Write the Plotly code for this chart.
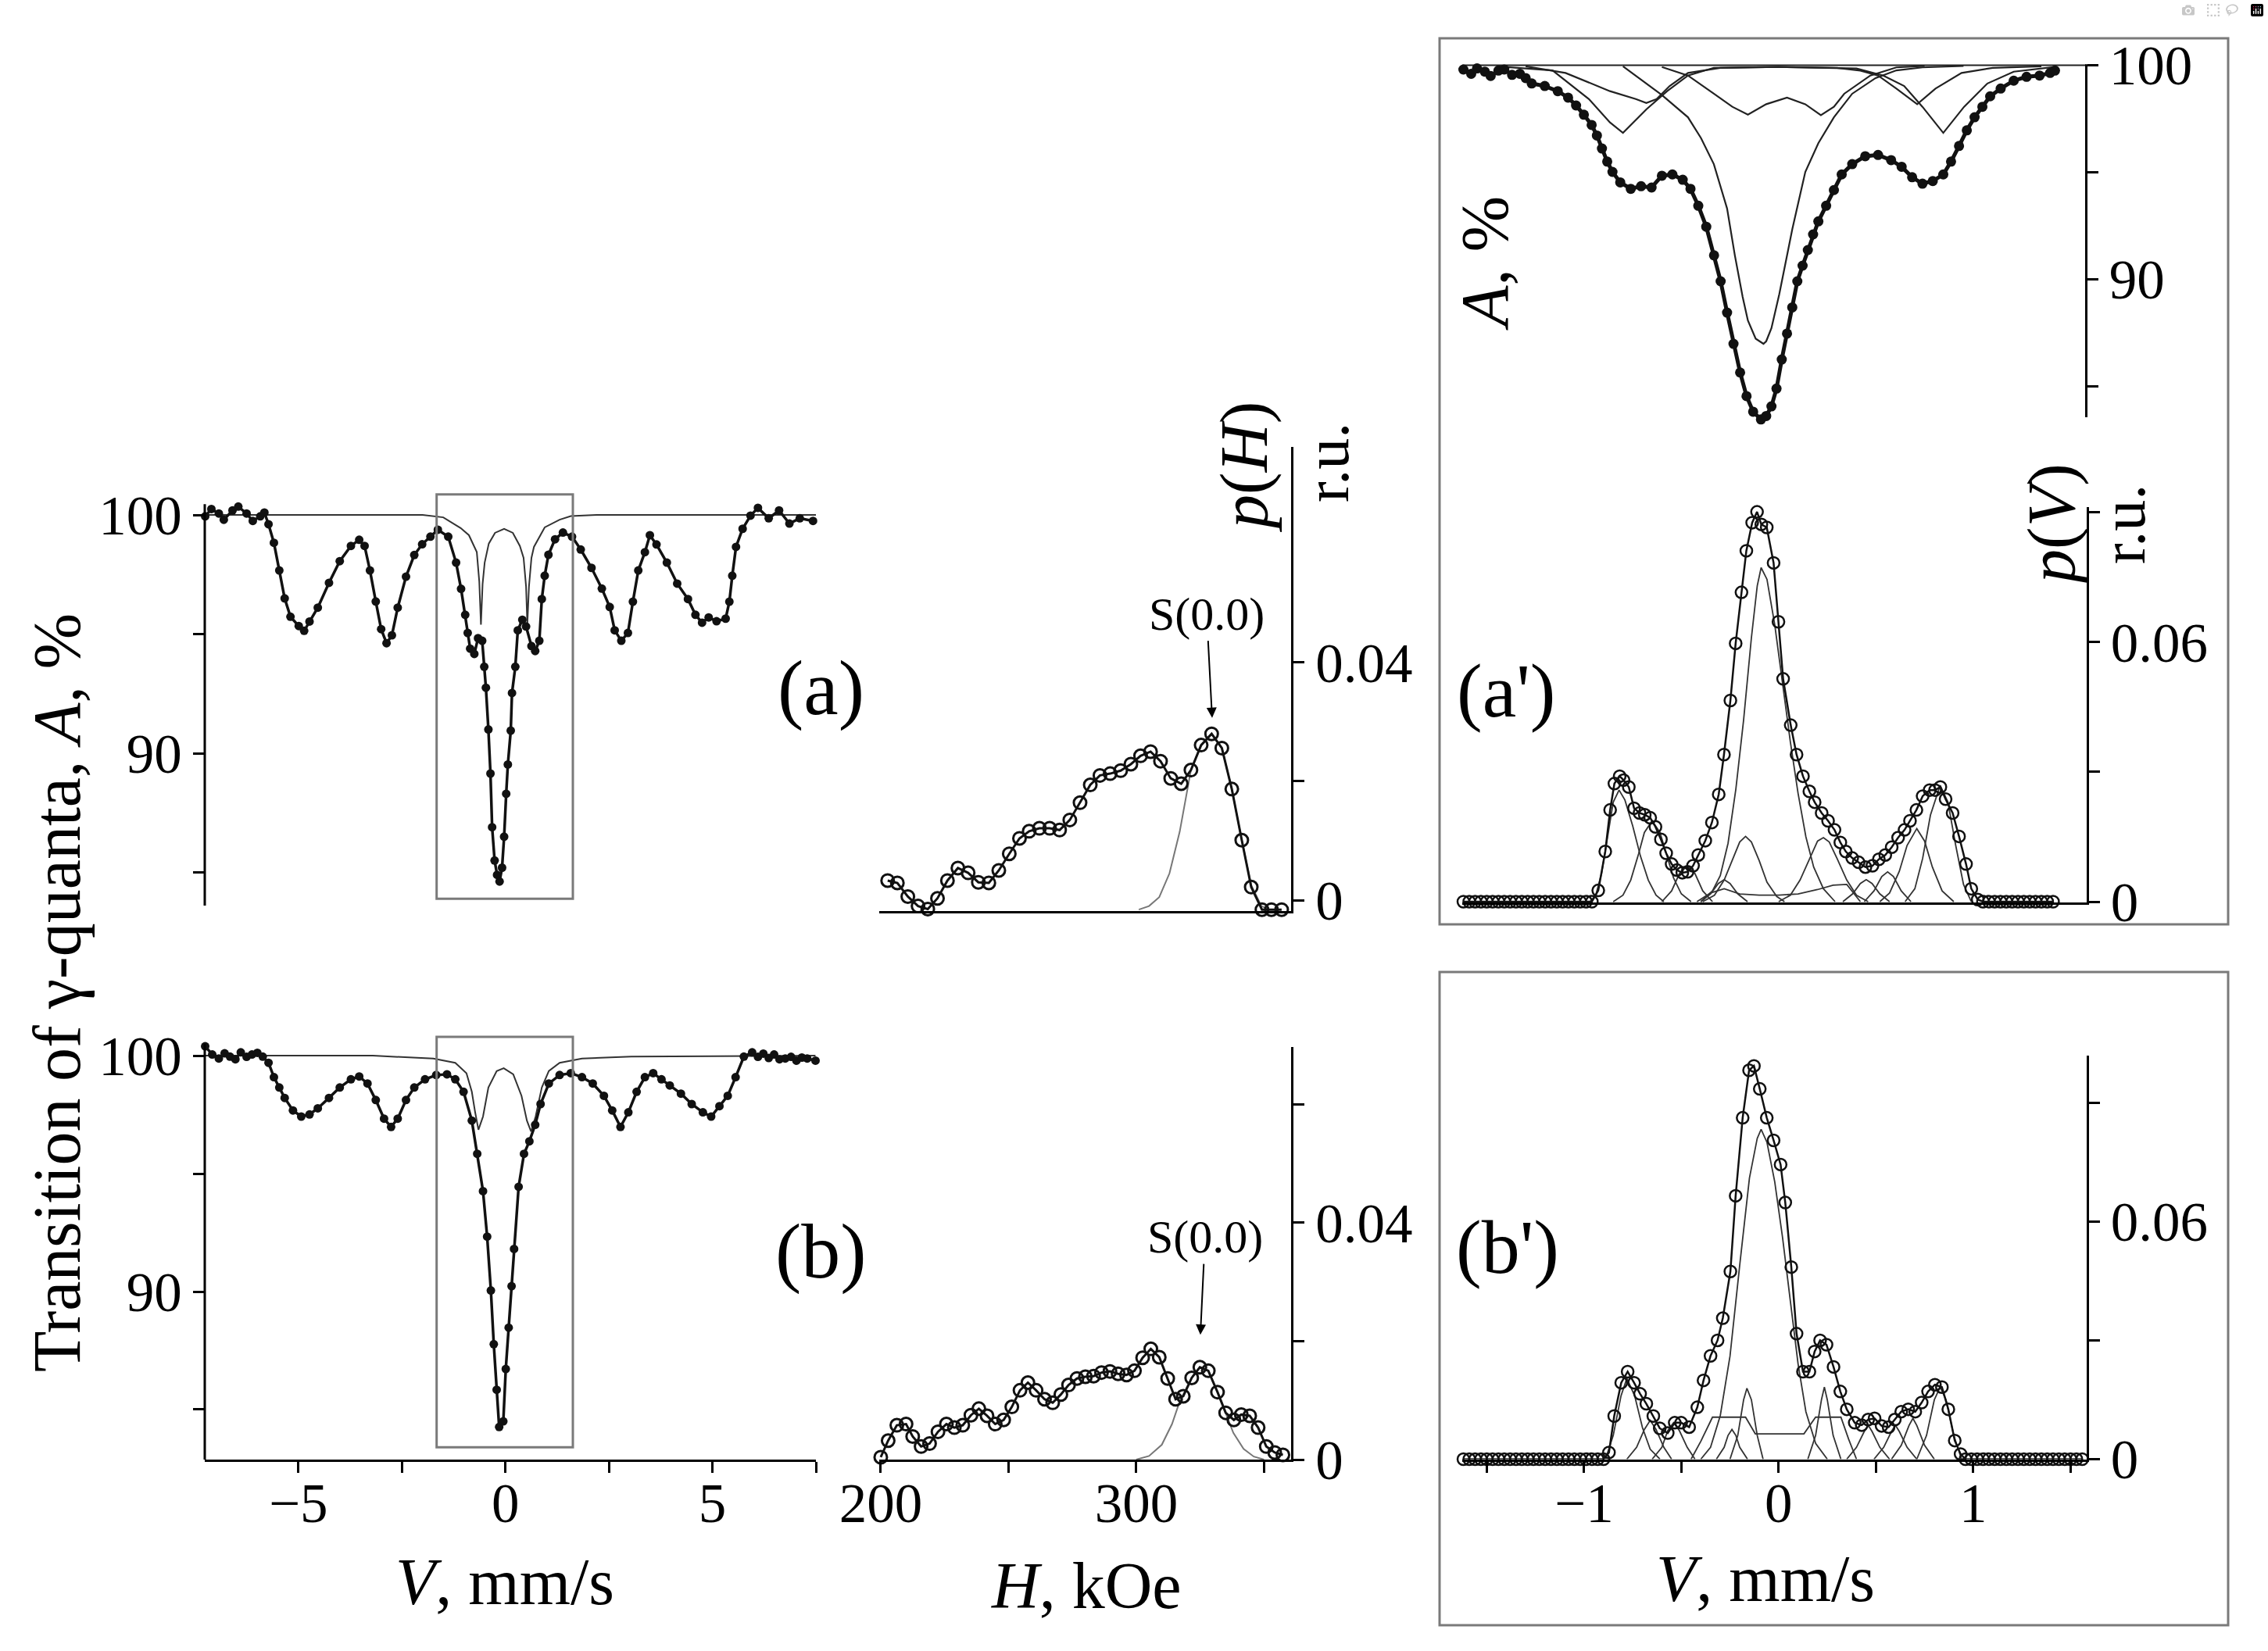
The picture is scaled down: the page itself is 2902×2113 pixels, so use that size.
import plotly.graph_objects as go

W, H = 2902, 2113
FONT = "Liberation Serif, Times New Roman, serif"


def px(x):
    return x / W


def py(y):
    return 1 - y / H


# ---------------- data: full-range spectrum (a) ----------------
V_a = [-7.25, -7.10, -6.92, -6.80, -6.59, -6.45, -6.25, -6.10, -5.92, -5.82,
       -5.72, -5.59, -5.46, -5.33, -5.19, -4.99, -4.86, -4.73, -4.53, -4.26,
       -4.00, -3.73, -3.53, -3.40, -3.27, -3.13, -3.00, -2.87, -2.74, -2.60,
       -2.40, -2.20, -2.01, -1.81, -1.63, -1.38, -1.19, -1.07, -0.97, -0.91,
       -0.85, -0.75, -0.66, -0.56, -0.51, -0.47, -0.41, -0.36, -0.32, -0.26,
       -0.20, -0.14, -0.08, -0.03, 0.02, 0.06, 0.13, 0.16, 0.24, 0.30,
       0.41, 0.50, 0.63, 0.72, 0.82, 0.88, 0.95, 1.04, 1.20, 1.39,
       1.61, 1.82, 2.08, 2.33, 2.52, 2.64, 2.80, 2.96, 3.08, 3.21,
       3.37, 3.49, 3.65, 3.90, 4.15, 4.41, 4.59, 4.75, 4.91, 5.10,
       5.32, 5.41, 5.48, 5.57, 5.73, 5.92, 6.10, 6.36, 6.61, 6.86, 7.11, 7.43]
A_a = [99.94, 100.25, 100.06, 99.80, 100.19, 100.35, 100.06, 99.75, 99.94, 100.10,
       99.61, 98.83, 97.67, 96.50, 95.73, 95.34, 95.14, 95.53, 96.11, 97.15,
       98.06, 98.70, 98.96, 98.70, 97.67, 96.37, 95.21, 94.62, 94.95, 96.11,
       97.41, 98.32, 98.77, 99.09, 99.38, 99.09, 98.00, 96.90, 95.81, 95.05,
       94.39, 94.17, 94.83, 94.72, 93.63, 92.75, 91.00, 89.15, 86.90, 85.50,
       84.90, 84.62, 85.20, 86.50, 88.30, 89.53, 90.95, 92.53, 93.63, 95.16,
       95.60, 95.32, 94.50, 94.29, 94.72, 96.47, 97.45, 98.33, 98.98, 99.26,
       99.09, 98.55, 97.78, 96.91, 96.14, 95.16, 94.72, 95.05, 96.36, 97.67,
       98.44, 99.15, 98.76, 98.00, 97.12, 96.47, 95.81, 95.48, 95.70, 95.54,
       95.65, 96.36, 97.45, 98.66, 99.42, 99.97, 100.30, 99.86, 100.19, 99.64, 99.86, 99.75]
V_a_dbl = [-7.26, -2.0, -1.5, -1.26, -1.08, -0.88, -0.69, -0.63, -0.59, -0.55,
           -0.50, -0.40, -0.25, -0.03, 0.18, 0.35, 0.44, 0.50, 0.53, 0.57,
           0.63, 0.69, 0.95, 1.31, 1.58, 2.2, 7.5]
A_a_dbl = [100, 100, 99.9, 99.64, 99.45, 99.15, 98.44, 97.2, 95.4, 97.1,
           98.0, 98.8, 99.25, 99.42, 99.25, 98.7, 98.2, 97.0, 95.4, 97.0,
           98.2, 98.66, 99.48, 99.8, 99.95, 100, 100]

# ---------------- data: full-range spectrum (b) ----------------
V_b = [-7.25, -7.08, -6.92, -6.78, -6.65, -6.52, -6.39, -6.25, -6.12, -5.99,
       -5.86, -5.72, -5.59, -5.46, -5.33,
       -5.13, -4.93, -4.73, -4.53, -4.26, -4.00, -3.73, -3.53, -3.33, -3.13,
       -2.93, -2.76, -2.60, -2.40, -2.20, -1.94, -1.67, -1.41, -1.21, -1.01,
       -0.81, -0.68, -0.54, -0.44, -0.35, -0.28, -0.21, -0.15, -0.05, 0.01,
       0.08, 0.15, 0.21, 0.32, 0.45, 0.58, 0.72, 0.85, 1.05, 1.31,
       1.58, 1.85, 2.11, 2.38, 2.58, 2.78, 2.97, 3.17, 3.37, 3.57,
       3.77, 3.97, 4.24, 4.50, 4.77, 4.97, 5.17, 5.37, 5.56, 5.76,
       5.96, 6.10, 6.23, 6.36, 6.49, 6.62, 6.76, 6.90, 7.03, 7.16, 7.29, 7.49]
A_b = [100.4, 100.05, 99.88, 100.10, 99.96, 99.85, 100.14, 99.95, 100.05, 100.12,
       99.96, 99.70, 99.09, 98.65, 98.21,
       97.68, 97.42, 97.51, 97.77, 98.21, 98.65, 99.00, 99.12, 98.82, 98.12,
       97.33, 96.98, 97.33, 98.12, 98.65, 99.00, 99.18, 99.21, 99.00, 98.47,
       97.25, 95.84, 94.26, 92.33, 90.05, 87.77, 85.84, 84.26, 84.50, 86.72,
       88.47, 90.23, 91.81, 94.44, 95.84, 96.37, 97.07, 97.95, 98.82, 99.18,
       99.26, 99.09, 98.82, 98.30, 97.68, 96.98, 97.60, 98.47, 99.09, 99.26,
       99.00, 98.74, 98.39, 97.95, 97.60, 97.42, 97.86, 98.30, 99.09, 99.96,
       100.14, 99.95, 100.09, 99.90, 100.05, 99.85, 99.88, 99.95, 99.79, 99.92, 99.88, 99.79]
V_b_dbl = [-7.25, -3.2, -1.74, -1.21, -0.94, -0.81, -0.73, -0.65, -0.54, -0.41,
           -0.21, -0.04, 0.19, 0.39, 0.52, 0.62, 0.73, 0.88, 1.05, 1.31,
           1.85, 3.04, 7.49]
A_b_dbl = [100, 100, 99.88, 99.70, 99.26, 98.47, 97.6, 96.86, 97.42, 98.65,
           99.35, 99.47, 99.21, 98.3, 97.25, 96.79, 97.42, 98.65, 99.35, 99.7,
           99.88, 99.96, 100]

# ---------------- data: hyperfine field distributions p(H) ----------------
H_pa = [202.7, 206.5, 210.6, 214.6, 218.4, 222.2, 226.1, 230.2, 234.2, 238.2,
        242.3, 246.2, 250.3, 254.3, 258.1, 262.1, 266.1, 270.0, 274.0, 278.0,
        282.0, 285.8, 289.8, 293.9, 297.9, 301.7, 305.6, 309.5, 313.5, 317.6,
        321.4, 325.4, 329.5, 333.5, 337.4, 341.3, 345.0, 349.2, 352.9, 356.9]
p_Ha = [0.0033, 0.0029, 0.0006, -0.0010, -0.0015, 0.0003, 0.0033, 0.0054, 0.0046, 0.0030,
        0.0029, 0.0050, 0.0078, 0.0104, 0.0116, 0.0121, 0.0121, 0.0118, 0.0135, 0.0164,
        0.0194, 0.0210, 0.0213, 0.0218, 0.0229, 0.0243, 0.0250, 0.0234, 0.0205, 0.0196,
        0.0219, 0.0261, 0.0280, 0.0256, 0.0187, 0.0101, 0.0022, -0.0016, -0.0016, -0.0016]
H_Sa = [301.0, 305.0, 309.0, 313.0, 317.0, 321.4, 325.4, 329.5, 333.5, 337.4, 341.3, 345.0, 349.0, 352.0]
p_Sa = [-0.0016, -0.0010, 0.0005, 0.0045, 0.0115, 0.0219, 0.0261, 0.0280, 0.0256, 0.0187, 0.0101, 0.0025, -0.0010, -0.0016]

H_pb = [200.0, 202.9, 206.3, 209.9, 212.5, 215.8, 219.1, 222.4, 225.7, 228.8, 232.1,
        235.3, 238.4, 241.6, 244.8, 248.1, 251.3, 254.5, 257.6, 260.8, 264.1,
        267.3, 270.5, 273.5, 276.8, 280.1, 283.3, 286.4, 289.7, 292.9, 296.2,
        299.3, 302.5, 305.7, 309.0, 312.3, 315.4, 318.4, 321.7, 324.9, 328.2,
        331.8, 335.0, 338.2, 341.1, 344.4, 347.7, 350.9, 354.2, 357.4]
p_Hb = [0.0004, 0.0032, 0.0058, 0.0060, 0.0039, 0.0022, 0.0027, 0.0047, 0.0060, 0.0054, 0.0058,
        0.0075, 0.0086, 0.0074, 0.0060, 0.0067, 0.0089, 0.0117, 0.0130, 0.0117, 0.0102,
        0.0096, 0.0110, 0.0126, 0.0137, 0.0140, 0.0141, 0.0147, 0.0149, 0.0145, 0.0143,
        0.0150, 0.0172, 0.0187, 0.0173, 0.0137, 0.0102, 0.0107, 0.0138, 0.0156, 0.0150,
        0.0114, 0.0079, 0.0067, 0.0076, 0.0074, 0.0054, 0.0022, 0.0012, 0.0008]
H_Sb = [300.0, 305.0, 310.0, 314.0, 317.0, 321.7, 324.9, 328.2, 331.8, 335.0, 338.0, 342.0, 346.0, 350.0]
p_Sb = [0.0, 0.0006, 0.0025, 0.0060, 0.0098, 0.0138, 0.0156, 0.0150, 0.0114, 0.0079, 0.0045, 0.0018, 0.0005, 0.0]

# ---------------- data: small-velocity spectrum (a') ----------------
V_ap = [-1.62, -1.58, -1.55, -1.51, -1.48, -1.44, -1.41, -1.37, -1.33, -1.30,
        -1.269, -1.202, -1.135, -1.082, -1.041, -1.001, -0.961, -0.934, -0.908, -0.881,
        -0.854, -0.814, -0.760, -0.707, -0.653, -0.600, -0.546, -0.493, -0.453, -0.413,
        -0.372, -0.332, -0.298, -0.265, -0.232, -0.198, -0.165, -0.131, -0.091, -0.064,
        -0.037, -0.011, 0.016, 0.043, 0.070, 0.096, 0.123, 0.150, 0.177, 0.204,
        0.244, 0.284, 0.324, 0.378, 0.445, 0.511, 0.578, 0.632, 0.686, 0.739,
        0.792, 0.846, 0.886, 0.927, 0.967, 1.007, 1.047, 1.087, 1.141, 1.208,
        1.274, 1.341, 1.395, 1.42]
A_ap = [99.8, 99.6, 99.85, 99.7, 99.5, 99.75, 99.8, 99.55, 99.6, 99.4,
        99.15, 99.03, 98.79, 98.49, 98.12, 97.69, 97.21, 96.72, 96.11, 95.50,
        95.02, 94.53, 94.23, 94.35, 94.29, 94.84, 94.90, 94.65, 94.23, 93.44,
        92.46, 91.12, 89.91, 88.45, 86.99, 85.65, 84.55, 83.82, 83.46, 83.62,
        84.07, 84.90, 86.26, 87.47, 88.69, 89.91, 90.64, 91.37, 92.10, 92.71,
        93.44, 94.17, 94.90, 95.38, 95.75, 95.81, 95.57, 95.26, 94.77, 94.47,
        94.59, 94.90, 95.50, 96.23, 96.96, 97.57, 98.06, 98.55, 98.91, 99.28,
        99.46, 99.52, 99.64, 99.75]
V_ap_base = [-1.626, 1.581]
A_ap_base = [100.0, 100.0]
V_ap_c1 = [-0.80, -0.600, -0.466, -0.399, -0.333, -0.265, -0.225, -0.185, -0.158, -0.118,
           -0.078, -0.064, -0.037, 0.003, 0.070, 0.137, 0.204, 0.284, 0.378, 0.498,
           0.605, 0.739, 0.95]
A_ap_c1 = [99.95, 98.61, 97.57, 96.60, 95.38, 93.31, 91.12, 89.18, 88.08, 87.23,
           86.99, 87.11, 87.72, 89.30, 92.34, 95.02, 96.36, 97.57, 98.67, 99.40,
           99.76, 99.90, 99.97]
V_ap_c2 = [-0.60, -0.466, -0.333, -0.238, -0.158, -0.064, 0.043, 0.137, 0.217, 0.284,
           0.337, 0.471, 0.605, 0.75]
A_ap_c2 = [99.92, 99.52, 98.67, 98.06, 97.69, 98.18, 98.49, 98.18, 97.67, 98.06,
           98.67, 99.52, 99.90, 99.97]
V_ap_c3 = [-1.45, -1.162, -0.975, -0.867, -0.800, -0.734, -0.680, -0.573, -0.466, -0.333,
           0.0, 0.400, 0.538, 0.645, 0.739, 0.846, 0.953, 1.073, 1.208, 1.42]
A_ap_c3 = [99.95, 99.76, 98.42, 97.33, 96.84, 97.45, 97.94, 98.79, 99.52, 99.88,
           99.92, 99.85, 99.52, 99.03, 98.06, 96.84, 98.06, 99.15, 99.70, 99.92]
V_ap_c4 = [-1.30, -1.095, -0.867, -0.734, -0.680, -0.627, -0.560, -0.466, -0.30, 0.0,
           0.30, 0.420, 0.511, 0.605, 0.712, 0.806, 0.940, 1.10, 1.35]
A_ap_c4 = [99.95, 99.64, 98.79, 98.42, 98.24, 98.42, 99.03, 99.64, 99.88, 99.92,
           99.88, 99.75, 99.52, 98.91, 98.18, 98.91, 99.64, 99.88, 99.95]

# ---------------- data: p(V) distributions ----------------
V_pa = [-1.62, -1.59, -1.56, -1.53, -1.50, -1.47, -1.44, -1.41, -1.38, -1.35,
        -1.32, -1.29, -1.26, -1.23, -1.20, -1.17, -1.14, -1.11, -1.08, -1.05,
        -1.02, -0.99, -0.96,
        -0.927, -0.891, -0.866, -0.844, -0.817, -0.797, -0.770, -0.743, -0.715, -0.688,
        -0.660, -0.633, -0.605, -0.578, -0.550, -0.523, -0.495, -0.468, -0.440, -0.413,
        -0.377, -0.343, -0.308, -0.281, -0.248, -0.221, -0.191, -0.166, -0.136, -0.111,
        -0.089, -0.061, -0.026, -0.001, 0.023, 0.062, 0.092, 0.125, 0.158, 0.185,
        0.221, 0.254, 0.287, 0.317, 0.345, 0.378, 0.411, 0.446, 0.482, 0.515,
        0.548, 0.581, 0.614, 0.647, 0.675, 0.708, 0.740, 0.776, 0.804, 0.831,
        0.858, 0.894, 0.927, 0.963, 0.990, 1.023,
        1.05, 1.08, 1.11, 1.14, 1.17, 1.20, 1.23, 1.26, 1.29, 1.32, 1.35, 1.38, 1.41]
p_Va = [0.0, 0.0, 0.0, 0.0, 0.0, 0.0, 0.0, 0.0, 0.0, 0.0,
        0.0, 0.0, 0.0, 0.0, 0.0, 0.0, 0.0, 0.0, 0.0, 0.0,
        0.0, 0.0, 0.0,
        0.0026, 0.0116, 0.0212, 0.0273, 0.0290, 0.0281, 0.0265, 0.0216, 0.0205, 0.0201,
        0.0194, 0.0173, 0.0144, 0.0112, 0.0087, 0.0073, 0.0067, 0.0069, 0.0083, 0.0108,
        0.0141, 0.0183, 0.0248, 0.0340, 0.0465, 0.0597, 0.0715, 0.0811, 0.0876, 0.0901,
        0.0872, 0.0865, 0.0783, 0.0647, 0.0515, 0.0408, 0.0340, 0.0290, 0.0255, 0.0230,
        0.0205, 0.0187, 0.0166, 0.0137, 0.0116, 0.0101, 0.0091, 0.0080, 0.0083, 0.0098,
        0.0108, 0.0126, 0.0148, 0.0166, 0.0187, 0.0212, 0.0244, 0.0258, 0.0258, 0.0265,
        0.0237, 0.0205, 0.0151, 0.0087, 0.0030, 0.0005,
        0.0, 0.0, 0.0, 0.0, 0.0, 0.0, 0.0, 0.0, 0.0, 0.0, 0.0, 0.0, 0.0]

comp_a_V = [
    [-0.97, -0.94, -0.91, -0.88, -0.85, -0.82, -0.79, -0.75, -0.71, -0.67, -0.63, -0.59],
    [-0.85, -0.80, -0.76, -0.72, -0.69, -0.65, -0.61, -0.58, -0.54, -0.50, -0.45],
    [-0.60, -0.55, -0.51, -0.47, -0.43, -0.39, -0.34],
    [-0.40, -0.35, -0.31, -0.28, -0.25, -0.21, -0.16],
    [-0.39, -0.33, -0.28, -0.24, -0.20, -0.17, -0.14, -0.10, -0.06, -0.01, 0.03],
    [-0.40, -0.34, -0.30, -0.26, -0.22, -0.18, -0.14, -0.11, -0.09, -0.06, -0.02, 0.02,
     0.06, 0.10, 0.14, 0.18, 0.23, 0.29],
    [0.0, 0.06, 0.11, 0.16, 0.20, 0.23, 0.26, 0.30, 0.35, 0.40, 0.46],
    [-0.42, -0.35, -0.28, -0.20, -0.10, 0.0, 0.10, 0.20, 0.28, 0.35, 0.42],
    [0.33, 0.38, 0.42, 0.45, 0.48, 0.52, 0.57],
    [0.44, 0.49, 0.53, 0.56, 0.59, 0.63, 0.68],
    [0.52, 0.57, 0.62, 0.66, 0.71, 0.75, 0.79, 0.84, 0.90],
    [0.65, 0.70, 0.74, 0.78, 0.83, 0.87, 0.91, 0.95, 0.99],
]
comp_a_p = [
    [0.0, 0.0015, 0.0065, 0.0150, 0.0230, 0.0258, 0.0235, 0.0175, 0.0105, 0.0050, 0.0015, 0.0],
    [0.0, 0.0015, 0.0050, 0.0110, 0.0160, 0.0187, 0.0160, 0.0115, 0.0055, 0.0018, 0.0],
    [0.0, 0.0025, 0.0065, 0.0083, 0.0065, 0.0025, 0.0],
    [0.0, 0.0018, 0.0042, 0.0051, 0.0042, 0.0018, 0.0],
    [0.0, 0.0015, 0.0050, 0.0095, 0.0138, 0.0151, 0.0138, 0.0095, 0.0045, 0.0012, 0.0],
    [0.0, 0.0025, 0.0060, 0.0135, 0.0260, 0.0420, 0.0610, 0.0730, 0.0772, 0.0745, 0.0640, 0.0500,
     0.0370, 0.0250, 0.0150, 0.0080, 0.0030, 0.0],
    [0.0, 0.0015, 0.0050, 0.0100, 0.0140, 0.0148, 0.0138, 0.0100, 0.0050, 0.0015, 0.0],
    [0.0, 0.0020, 0.0030, 0.0018, 0.0015, 0.0015, 0.0018, 0.0028, 0.0038, 0.0040, 0.0],
    [0.0, 0.0018, 0.0042, 0.0051, 0.0042, 0.0018, 0.0],
    [0.0, 0.0025, 0.0058, 0.0069, 0.0058, 0.0025, 0.0],
    [0.0, 0.0020, 0.0070, 0.0130, 0.0169, 0.0140, 0.0080, 0.0025, 0.0],
    [0.0, 0.0030, 0.0100, 0.0200, 0.0269, 0.0230, 0.0130, 0.0040, 0.0],
]

V_pb = [-1.62, -1.59, -1.56, -1.53, -1.50, -1.47, -1.44, -1.41, -1.38, -1.35,
        -1.32, -1.29, -1.26, -1.23, -1.20, -1.17, -1.14, -1.11, -1.08, -1.05,
        -1.02, -0.99, -0.96, -0.93, -0.90,
        -0.872, -0.845, -0.809, -0.776, -0.743, -0.712, -0.680, -0.644, -0.611, -0.570,
        -0.534, -0.501, -0.460, -0.418, -0.386, -0.350, -0.314, -0.287, -0.248, -0.221,
        -0.185, -0.152, -0.127, -0.097, -0.061, -0.026, 0.010, 0.034, 0.065, 0.092,
        0.125, 0.158, 0.185, 0.213, 0.246, 0.282, 0.317, 0.350, 0.391, 0.427,
        0.460, 0.493, 0.529, 0.565, 0.597, 0.630, 0.666, 0.702, 0.735, 0.768,
        0.803, 0.839, 0.872, 0.905, 0.935,
        0.96, 0.99, 1.02, 1.05, 1.08, 1.11, 1.14, 1.17, 1.20, 1.23, 1.26, 1.29,
        1.32, 1.35, 1.38, 1.41, 1.44, 1.47, 1.50, 1.53, 1.56]
p_Vb = [0.0, 0.0, 0.0, 0.0, 0.0, 0.0, 0.0, 0.0, 0.0, 0.0,
        0.0, 0.0, 0.0, 0.0, 0.0, 0.0, 0.0, 0.0, 0.0, 0.0,
        0.0, 0.0, 0.0, 0.0, 0.0,
        0.0017, 0.0109, 0.0193, 0.0221, 0.0193, 0.0165, 0.0140, 0.0109, 0.0078, 0.0066,
        0.0092, 0.0092, 0.0081, 0.0131, 0.0199, 0.0261, 0.0300, 0.0356, 0.0474, 0.0665,
        0.0862, 0.0982, 0.0993, 0.0935, 0.0862, 0.0805, 0.0744, 0.0648, 0.0485, 0.0317,
        0.0221, 0.0221, 0.0272, 0.0300, 0.0289, 0.0233, 0.0171, 0.0126, 0.0092, 0.0086,
        0.0100, 0.0103, 0.0084, 0.0081, 0.0100, 0.0120, 0.0126, 0.0120, 0.0143, 0.0171,
        0.0188, 0.0182, 0.0126, 0.0047, 0.0013,
        0.0, 0.0, 0.0, 0.0, 0.0, 0.0, 0.0, 0.0, 0.0, 0.0, 0.0, 0.0,
        0.0, 0.0, 0.0, 0.0, 0.0, 0.0, 0.0, 0.0, 0.0]

comp_b_V = [
    [-0.89, -0.85, -0.81, -0.78, -0.74, -0.70, -0.66, -0.61],
    [-0.78, -0.73, -0.69, -0.66, -0.63, -0.59, -0.55],
    [-0.65, -0.60, -0.57, -0.54, -0.51, -0.47, -0.43],
    [-0.45, -0.40, -0.34, -0.25, -0.17, -0.12, 0.0, 0.13, 0.19, 0.26, 0.32, 0.36, 0.40],
    [-0.32, -0.28, -0.26, -0.24, -0.22, -0.20, -0.16],
    [-0.25, -0.21, -0.18, -0.163, -0.14, -0.11, -0.08],
    [-0.40, -0.35, -0.30, -0.25, -0.20, -0.15, -0.11, -0.09, -0.06, -0.02, 0.02, 0.06,
     0.10, 0.14, 0.19, 0.25],
    [0.15, 0.19, 0.22, 0.235, 0.25, 0.28, 0.32],
    [0.35, 0.40, 0.44, 0.46, 0.48, 0.52, 0.57],
    [0.49, 0.54, 0.58, 0.60, 0.62, 0.66, 0.71],
    [0.58, 0.63, 0.67, 0.69, 0.71, 0.75, 0.80],
    [0.71, 0.76, 0.80, 0.83, 0.86, 0.90, 0.94],
]
comp_b_p = [
    [0.0, 0.0060, 0.0160, 0.0204, 0.0160, 0.0080, 0.0025, 0.0],
    [0.0, 0.0030, 0.0075, 0.0098, 0.0075, 0.0030, 0.0],
    [0.0, 0.0030, 0.0072, 0.0092, 0.0072, 0.0030, 0.0],
    [0.0, 0.0045, 0.0106, 0.0106, 0.0106, 0.0064, 0.0064, 0.0064, 0.0106, 0.0106, 0.0106, 0.0050, 0.0],
    [0.0, 0.0030, 0.0060, 0.0075, 0.0060, 0.0030, 0.0],
    [0.0, 0.0060, 0.0150, 0.0179, 0.0150, 0.0060, 0.0],
    [0.0, 0.0030, 0.0110, 0.0260, 0.0490, 0.0710, 0.0810, 0.0833, 0.0800, 0.0700, 0.0560, 0.0400,
     0.0240, 0.0120, 0.0040, 0.0],
    [0.0, 0.0060, 0.0150, 0.0182, 0.0150, 0.0060, 0.0],
    [0.0, 0.0030, 0.0070, 0.0086, 0.0070, 0.0030, 0.0],
    [0.0, 0.0030, 0.0070, 0.0086, 0.0070, 0.0030, 0.0],
    [0.0, 0.0035, 0.0085, 0.0103, 0.0085, 0.0035, 0.0],
    [0.0, 0.0060, 0.0150, 0.0182, 0.0150, 0.0060, 0.0],
]

# tick labels
spec_y_ticks = [85, 90, 95, 100]
spec_y_text = ["", "90", "", "100"]
spec_x_ticks = [-5, -2.5, 0, 2.5, 5, 7.5]
spec_x_text = ["\u22125", "", "0", "", "5", ""]
pH_x_ticks = [200, 250, 300, 350]
pH_x_text = ["200", "", "300", ""]
pV_x_ticks = [-1.5, -1, -0.5, 0, 0.5, 1, 1.5]
pV_x_text = ["", "\u22121", "", "0", "", "1", ""]
pV_y_ticks = [0, 0.03, 0.06, 0.09]
pV_y_text = ["0", "", "0.06", ""]

# ---------------- figure ----------------
fig = go.Figure()
BLACK = "#111111"
THIN = "#333333"


def line_tr(x, y, ax, color=THIN, width=2):
    fig.add_trace(go.Scatter(x=x, y=y, mode="lines", xaxis="x" + ax, yaxis="y" + ax,
                             line=dict(color=color, width=width), hoverinfo="skip",
                             cliponaxis=False))


def dots_tr(x, y, ax, size=11, width=3.5):
    fig.add_trace(go.Scatter(x=x, y=y, mode="lines+markers", xaxis="x" + ax, yaxis="y" + ax,
                             line=dict(color=BLACK, width=width),
                             marker=dict(color=BLACK, size=size, symbol="circle"),
                             cliponaxis=False))


def circ_tr(x, y, ax, size=15, lw=2.5, width=2.5):
    fig.add_trace(go.Scatter(x=x, y=y, mode="lines+markers", xaxis="x" + ax, yaxis="y" + ax,
                             line=dict(color=BLACK, width=width),
                             marker=dict(color=BLACK, size=size, symbol="circle-open",
                                         line=dict(width=lw, color=BLACK)),
                             cliponaxis=False))


# (a)
line_tr(V_a_dbl, A_a_dbl, "", width=2)
dots_tr(V_a, A_a, "")
# (b)
line_tr(V_b_dbl, A_b_dbl, "2", width=2)
dots_tr(V_b, A_b, "2")
# p(H) a
line_tr(H_Sa, p_Sa, "3", color="#777777", width=2)
circ_tr(H_pa, p_Ha, "3", size=16, lw=3, width=3)
# p(H) b
line_tr(H_Sb, p_Sb, "4", color="#777777", width=2)
circ_tr(H_pb, p_Hb, "4", size=16, lw=3, width=3)
# (a') spectrum
for xx, yy in [(V_ap_base, A_ap_base), (V_ap_c1, A_ap_c1), (V_ap_c2, A_ap_c2),
               (V_ap_c3, A_ap_c3), (V_ap_c4, A_ap_c4)]:
    line_tr(xx, yy, "5", width=2.2, color="#222222")
dots_tr(V_ap, A_ap, "5", size=13, width=5)
# (a') p(V)
for xx, yy in zip(comp_a_V, comp_a_p):
    line_tr(xx, yy, "6", width=1.8)
circ_tr(V_pa, p_Va, "6")
# (b') p(V)
for xx, yy in zip(comp_b_V, comp_b_p):
    line_tr(xx, yy, "7", width=1.8)
circ_tr(V_pb, p_Vb, "7")

tickfont = dict(family=FONT, size=71, color="black")
base_ax = dict(showgrid=False, zeroline=False, tickfont=tickfont, ticks="outside",
               ticklen=14, tickwidth=3, tickcolor="black", linecolor="black", linewidth=3,
               fixedrange=True, automargin=False)

SPX = [px(262), px(1044)]
PHX = [px(1125), px(1652)]
PVX = [px(1871), px(2669.5)]
XLAB_SHIFT = -22

layout = dict(
    width=W, height=H, margin=dict(l=0, r=0, t=0, b=0, pad=0, autoexpand=False),
    paper_bgcolor="white", plot_bgcolor="rgba(0,0,0,0)", showlegend=False,
    font=dict(family=FONT, color="black"),
    xaxis=dict(base_ax, domain=SPX, range=[-7.26, 7.5], anchor="y", showline=False,
               showticklabels=False, ticks=""),
    yaxis=dict(base_ax, domain=[py(1159), py(620)], range=[83.61, 101.28], anchor="x",
               showline=False, tickvals=spec_y_ticks, ticktext=spec_y_text),
    xaxis2=dict(base_ax, domain=SPX, range=[-7.26, 7.5], anchor="y2", showline=True,
                tickvals=spec_x_ticks, ticktext=spec_x_text, ticklabelstandoff=XLAB_SHIFT),
    yaxis2=dict(base_ax, domain=[py(1868), py(1320)], range=[82.88, 101.03], anchor="x2",
                showline=False, tickvals=spec_y_ticks, ticktext=spec_y_text),
    xaxis3=dict(base_ax, domain=PHX, range=[199.4, 360.6], anchor="y3", showline=True,
                showticklabels=False, ticks=""),
    yaxis3=dict(base_ax, domain=[py(1166), py(572)], range=[-0.00184, 0.0763], anchor="x3",
                side="right", showline=True, tickvals=[0, 0.02, 0.04], ticktext=["0", "", "0.04"]),
    xaxis4=dict(base_ax, domain=PHX, range=[199.4, 360.6], anchor="y4", showline=True,
                tickvals=pH_x_ticks, ticktext=pH_x_text, ticklabelstandoff=XLAB_SHIFT),
    yaxis4=dict(base_ax, domain=[py(1868), py(1340)], range=[0, 0.0697], anchor="x4",
                side="right", showline=True, tickvals=[0, 0.02, 0.04, 0.06],
                ticktext=["0", "", "0.04", ""]),
    xaxis5=dict(base_ax, domain=PVX, range=[-1.626, 1.581], anchor="y5", showline=False,
                showticklabels=False, ticks=""),
    yaxis5=dict(base_ax, domain=[py(545), py(55)], range=[83.16, 101.04], anchor="x5",
                side="right", showline=False, tickvals=spec_y_ticks, ticktext=spec_y_text),
    xaxis6=dict(base_ax, domain=PVX, range=[-1.626, 1.581], anchor="y6", showline=True,
                showticklabels=False, ticks=""),
    yaxis6=dict(base_ax, domain=[py(1155), py(649)], range=[-0.00018, 0.0912], anchor="x6",
                side="right", showline=True, tickvals=pV_y_ticks, ticktext=pV_y_text),
    xaxis7=dict(base_ax, domain=PVX, range=[-1.626, 1.581], anchor="y7", showline=True,
                tickvals=pV_x_ticks, ticktext=pV_x_text, ticklabelstandoff=XLAB_SHIFT),
    yaxis7=dict(base_ax, domain=[py(1867.5), py(1351)], range=[0, 0.1019], anchor="x7",
                side="right", showline=True, tickvals=pV_y_ticks, ticktext=pV_y_text),
)
fig.update_layout(**layout)

GRAY = "#7a7a7a"
shapes = [
    dict(type="line", xref="x domain", yref="y", x0=0, x1=0, y0=83.61, y1=100.45,
         line=dict(color="black", width=3)),
    dict(type="line", xref="x2 domain", yref="y2", x0=0, x1=0, y0=82.88, y1=100.5,
         line=dict(color="black", width=3)),
    dict(type="line", xref="x5 domain", yref="y5", x0=1, x1=1, y0=83.56, y1=100.05,
         line=dict(color="black", width=3)),
    dict(type="rect", xref="x", yref="y", x0=-1.66, x1=1.63, y0=83.9, y1=100.86,
         line=dict(color=GRAY, width=3)),
    dict(type="rect", xref="x2", yref="y2", x0=-1.66, x1=1.63, y0=83.4, y1=100.8,
         line=dict(color=GRAY, width=3)),
    dict(type="rect", xref="paper", yref="paper", x0=px(1842), x1=px(2851),
         y0=py(1183), y1=py(49), line=dict(color=GRAY, width=3)),
    dict(type="rect", xref="paper", yref="paper", x0=px(1842), x1=px(2851),
         y0=py(2080), y1=py(1244), line=dict(color=GRAY, width=3)),
]
fig.update_layout(shapes=shapes)


def txt(x, y, s, size, angle=0):
    return dict(x=px(x), y=py(y), xref="paper", yref="paper", text=s, showarrow=False,
                textangle=angle, xanchor="center", yanchor="middle",
                font=dict(family=FONT, size=size, color="black"))


ann = [
    txt(73, 1271, "Transition of \u03b3-quanta, <i>A</i>, %", 86, -90),
    txt(1050, 880, "(a)", 100),
    txt(1050, 1601, "(b)", 100),
    txt(1927, 884, "(a')", 98),
    txt(1929, 1596, "(b')", 98),
    txt(646, 2024, "<i>V</i>, mm/s", 84),
    txt(1390, 2029, "<i>H</i>, kOe", 84),
    txt(2259, 2020, "<i>V</i>, mm/s", 84),
    txt(1592, 598, "<i>p</i>(<i>H</i>)", 86, -90),
    txt(1698, 592, "r.u.", 80, -90),
    txt(1900, 337, "<i>A</i>, %", 86, -90),
    txt(2625, 673, "<i>p</i>(<i>V</i>)", 86, -90),
    txt(2717, 671, "r.u.", 80, -90),
    dict(x=329.7, y=0.0307, xref="x3", yref="y3", text="S(0.0)", showarrow=True,
         ax=-7, ay=-133, arrowhead=2, arrowsize=1.3, arrowwidth=2, arrowcolor="black",
         font=dict(family=FONT, size=60, color="black")),
    dict(x=325.1, y=0.0211, xref="x4", yref="y4", text="S(0.0)", showarrow=True,
         ax=6, ay=-125, arrowhead=2, arrowsize=1.3, arrowwidth=2, arrowcolor="black",
         font=dict(family=FONT, size=60, color="black")),
]
fig.update_layout(annotations=ann)

fig.write_html("out.html", post_script="document.body.style.margin='0px';")
